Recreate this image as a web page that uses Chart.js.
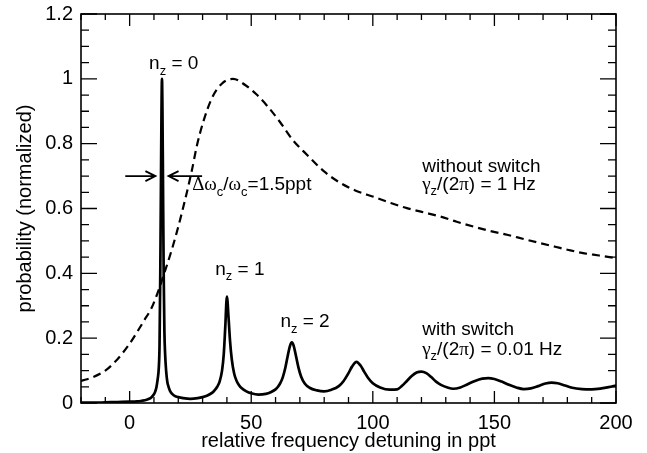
<!DOCTYPE html>
<html><head><meta charset="utf-8">
<script src="https://cdn.jsdelivr.net/npm/chart.js@4.4.1/dist/chart.umd.min.js"></script>
<style>html,body{margin:0;padding:0;background:#fff}#wrap{width:647px;height:453px}</style>
</head><body><div id="wrap"><canvas id="c" width="647" height="453"></canvas></div>
<script>
// ---- data ----
const withSwitchX = [-20,-15,-10,-5,0,3,5,7,8,9,10,10.5,11,11.5,12,12.3,12.6,12.9,13.1,13.3,13.5,13.7,14.0,14.3,14.6,15.0,15.5,16,16.7,17.5,18.5,20,22,25,28,30,32,34,35,36,37,38,38.7,39.3,40,40.7,41.3,42,43,44,45,46,48,50,53,56,58,60,61,62,63,64,65,66,66.7,67.4,68.4,69.4,70.5,72,74,77,80,83,86,88,90,91.5,93.3,95,96.5,98,100,103,107,110,112,114,116,118,120,122,124,126,128,131,133,136,139,142,145,147.5,150,153,156,159,162,165,168,171,173.5,176,179,182,186,190,194,197,200];
const withSwitchY = [0.001,0.001,0.002,0.003,0.004,0.005,0.007,0.01,0.013,0.018,0.027,0.035,0.048,0.072,0.11,0.18,0.4,0.7,0.9,1.0,0.9,0.7,0.4,0.22,0.15,0.1,0.065,0.05,0.036,0.028,0.022,0.018,0.015,0.013,0.015,0.018,0.023,0.032,0.04,0.05,0.066,0.1,0.15,0.23,0.328,0.26,0.19,0.135,0.09,0.068,0.055,0.046,0.036,0.03,0.026,0.028,0.033,0.042,0.05,0.062,0.08,0.108,0.145,0.178,0.187,0.178,0.145,0.11,0.082,0.06,0.047,0.039,0.036,0.041,0.052,0.068,0.092,0.113,0.127,0.115,0.096,0.078,0.061,0.048,0.041,0.042,0.053,0.068,0.083,0.094,0.097,0.092,0.08,0.066,0.056,0.047,0.044,0.048,0.058,0.068,0.075,0.077,0.074,0.066,0.056,0.048,0.043,0.045,0.052,0.06,0.063,0.061,0.054,0.047,0.043,0.042,0.045,0.049,0.054];
const withoutSwitchX = [-20,-15,-10,-6,-3,0,3,6,9,12,14,16.6,19.4,22.8,25.6,27.6,30.3,33.8,37.9,42.5,47.5,52,56.4,61.9,67,72.9,79.7,86.6,93,100.3,107,114,121,127.8,134.5,141.5,148,155.2,162,168.9,175,180.5,186,193,200];
const withoutSwitchY = [0.068,0.08,0.1,0.127,0.153,0.183,0.218,0.255,0.293,0.35,0.395,0.455,0.527,0.627,0.718,0.792,0.868,0.94,0.985,1.0,0.981,0.953,0.918,0.866,0.812,0.766,0.716,0.679,0.655,0.636,0.618,0.601,0.588,0.575,0.559,0.544,0.531,0.519,0.506,0.493,0.482,0.472,0.463,0.455,0.447];
const xMajorTicks = [0,50,100,150,200];
const xTickLabels = ['0','50','100','150','200'];
const xMinorTicks = [-20,-10,10,20,30,40,60,70,80,90,110,120,130,140,160,170,180,190];
const yMajorTicks = [0,0.2,0.4,0.6,0.8,1,1.2];
const yTickLabels = ['0','0.2','0.4','0.6','0.8','1','1.2'];
const yMinorTicks = [0.05,0.1,0.15,0.25,0.3,0.35,0.45,0.5,0.55,0.65,0.7,0.75,0.85,0.9,0.95,1.05,1.1,1.15];
const xTitle = 'relative frequency detuning in ppt';
const yTitle = 'probability (normalized)';

const SANS = '"Liberation Sans", Arial, Helvetica, sans-serif';
const SERIF = '"Liberation Serif", "Times New Roman", serif';

// annotations: rich text segments
const annotations = [
  {x: 8.0, y: 1.052, segs: [{t:'n'},{t:'z',sub:1},{t:' = 0'}]},
  {x: 25.7, y: 0.678, segs: [{t:'Δω',serif:1},{t:'c',sub:1},{t:'/'},{t:'ω',serif:1},{t:'c',sub:1},{t:'=1.5ppt'}]},
  {x: 35.2, y: 0.417, segs: [{t:'n'},{t:'z',sub:1},{t:' = 1'}]},
  {x: 62.0, y: 0.256, segs: [{t:'n'},{t:'z',sub:1},{t:' = 2'}]},
  {x: 120.3, y: 0.735, segs: [{t:'without switch'}]},
  {x: 120.3, y: 0.679, segs: [{t:'γ',serif:1},{t:'z',sub:1},{t:'/(2'},{t:'π',serif:1},{t:') = 1 Hz'}]},
  {x: 120.3, y: 0.231, segs: [{t:'with switch'}]},
  {x: 120.3, y: 0.170, segs: [{t:'γ',serif:1},{t:'z',sub:1},{t:'/(2'},{t:'π',serif:1},{t:') = 0.01 Hz'}]}
];
const arrows = [
  {from:-1.8, to:10.6, y:0.70},
  {from:29.8, to:16.0, y:0.70}
];

function drawRich(ctx, segs, px, pyCenter, size){
  const base = pyCenter + size*0.36;
  let cx = px;
  segs.forEach(s=>{
    const fs = s.sub ? size*0.68 : size;
    ctx.font = fs + 'px ' + (s.serif ? SERIF : SANS);
    ctx.fillText(s.t, cx, base + (s.sub ? size*0.3 : 0));
    cx += ctx.measureText(s.t).width;
  });
}

const framePlugin = {
  id: 'frameTicks',
  afterDatasetsDraw(chart){
    const {ctx, chartArea:a, scales:{x, y}} = chart;
    ctx.save();
    ctx.strokeStyle = '#000';
    ctx.lineWidth = 1.6;
    ctx.strokeRect(a.left, a.top, a.right - a.left, a.bottom - a.top);
    ctx.lineWidth = 1.3;
    ctx.beginPath();
    const xt = (v,len)=>{const p = x.getPixelForValue(v); ctx.moveTo(p,a.bottom); ctx.lineTo(p,a.bottom-len); ctx.moveTo(p,a.top); ctx.lineTo(p,a.top+len);};
    const yt = (v,len)=>{const p = y.getPixelForValue(v); ctx.moveTo(a.left,p); ctx.lineTo(a.left+len,p); ctx.moveTo(a.right,p); ctx.lineTo(a.right-len,p);};
    xMajorTicks.forEach(v=>xt(v,12));
    xMinorTicks.forEach(v=>xt(v,6));
    yMajorTicks.forEach(v=>yt(v,16));
    yMinorTicks.forEach(v=>yt(v,8));
    ctx.stroke();
    // arrows
    ctx.lineWidth = 1.8;
    arrows.forEach(ar=>{
      const x0 = x.getPixelForValue(ar.from), x1 = x.getPixelForValue(ar.to), py = y.getPixelForValue(ar.y);
      const dir = Math.sign(x1 - x0);
      ctx.beginPath();
      ctx.moveTo(x0, py); ctx.lineTo(x1, py);
      ctx.moveTo(x1 - dir*10, py - 5); ctx.lineTo(x1, py); ctx.lineTo(x1 - dir*10, py + 5);
      ctx.stroke();
    });
    // texts
    ctx.fillStyle = '#000';
    ctx.textAlign = 'left';
    ctx.textBaseline = 'alphabetic';
    annotations.forEach(an=>{
      drawRich(ctx, an.segs, x.getPixelForValue(an.x), y.getPixelForValue(an.y), 19);
    });
    ctx.restore();
  }
};

Chart.defaults.font.family = SANS;
Chart.defaults.color = '#000';

new Chart(document.getElementById('c'), {
  type: 'line',
  data: {
    datasets: [
      {label:'with switch', data: withSwitchX.map((v,i)=>({x:v, y:withSwitchY[i]})),
       borderColor:'#000', borderWidth:2.7, pointRadius:0, fill:false, cubicInterpolationMode:'monotone'},
      {label:'without switch', data: withoutSwitchX.map((v,i)=>({x:v, y:withoutSwitchY[i]})),
       borderColor:'#000', borderWidth:2.2, borderDash:[8,5], pointRadius:0, fill:false, cubicInterpolationMode:'monotone'}
    ]
  },
  options: {
    responsive:false, animation:false, devicePixelRatio:1,
    layout:{padding:{left:0, right:31, top:14, bottom:0}},
    plugins:{legend:{display:false}, tooltip:{enabled:false}},
    scales:{
      x:{type:'linear', min:-20, max:200,
         grid:{display:false, drawTicks:false}, border:{display:false},
         afterBuildTicks: s=>{ s.ticks = xMajorTicks.map(v=>({value:v})); },
         afterFit: s=>{ s.height = 50; s.paddingLeft = 0; s.paddingRight = 0; },
         ticks:{autoSkip:false, maxRotation:0, padding:8, font:{size:20}, color:'#000',
                callback:(v)=>{const i = xMajorTicks.indexOf(v); return i>=0 ? xTickLabels[i] : '';}},
         title:{display:true, text:xTitle, font:{size:20}, color:'#000', padding:{top:0,bottom:0}}},
      y:{type:'linear', min:0, max:1.2,
         grid:{display:false, drawTicks:false}, border:{display:false},
         afterBuildTicks: s=>{ s.ticks = yMajorTicks.map(v=>({value:v})); },
         afterFit: s=>{ s.width = 81; s.paddingTop = 0; s.paddingBottom = 0; },
         ticks:{autoSkip:false, padding:8, font:{size:20}, color:'#000',
                callback:(v)=>{const i = yMajorTicks.findIndex(t=>Math.abs(t-v)<1e-9); return i>=0 ? yTickLabels[i] : '';}},
         title:{display:true, text:yTitle, font:{size:20}, color:'#000', padding:{top:13,bottom:0}}}
    }
  },
  plugins:[framePlugin]
});
</script>
</body></html>
